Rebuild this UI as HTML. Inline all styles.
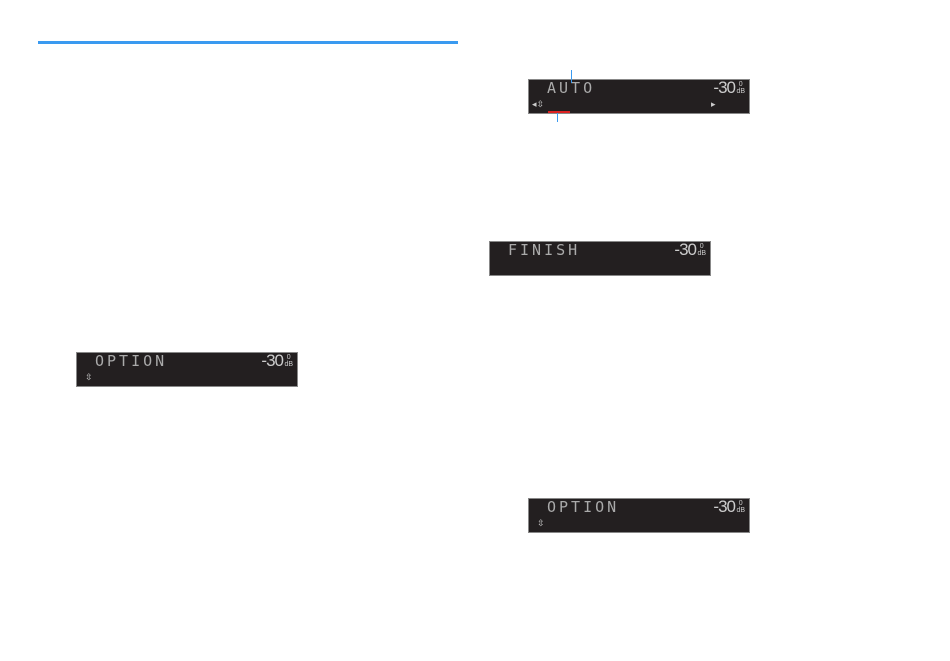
<!DOCTYPE html>
<html><head><meta charset="utf-8"><style>
body{margin:0;width:950px;height:661px;background:#fff;position:relative;overflow:hidden;font-family:"Liberation Sans",sans-serif}
.d{position:absolute;width:222px;height:35px;background:#231f20;border:1px solid #888;box-sizing:border-box;color:#c8c8c8}
.t{position:absolute;top:-1px;font-family:"DejaVu Sans Mono",monospace;font-weight:normal;font-size:15px;letter-spacing:3px;color:#aaa;transform:scaleX(1.0)}
.v{position:absolute;right:14px;top:-2px;font-size:17px;color:#ccc;letter-spacing:-1px}
.z{position:absolute;right:4px;top:1px;font-size:7px;color:#ccc;line-height:7px;text-align:center}
.ic{position:absolute;left:8px;top:20px;font-size:9px;color:#ccc;line-height:9px}
.line{position:absolute;background:#3a9af0}
</style></head><body>
<div class="line" style="left:38px;top:41px;width:420px;height:3px"></div>

<div class="d" style="left:528px;top:79px">
<span class="t" style="left:18px">AUTO</span><span class="v">-30</span><span class="z">0<br>dB</span>
<span class="ic" style="left:3px">◂⇳</span><span class="ic" style="left:182px">▸</span>
</div>
<div class="line" style="left:571px;top:70px;width:1px;height:13px"></div>
<div class="line" style="left:557px;top:112px;width:1px;height:10px"></div>
<div style="position:absolute;left:548px;top:111px;width:22px;height:2px;background:#d22"></div>

<div class="d" style="left:489px;top:241px">
<span class="t" style="left:18px">FINISH</span><span class="v">-30</span><span class="z">0<br>dB</span>
</div>

<div class="d" style="left:76px;top:352px">
<span class="t" style="left:18px">OPTION</span><span class="v">-30</span><span class="z">0<br>dB</span>
<span class="ic">⇳</span>
</div>

<div class="d" style="left:528px;top:498px">
<span class="t" style="left:18px">OPTION</span><span class="v">-30</span><span class="z">0<br>dB</span>
<span class="ic">⇳</span>
</div>
</body></html>
